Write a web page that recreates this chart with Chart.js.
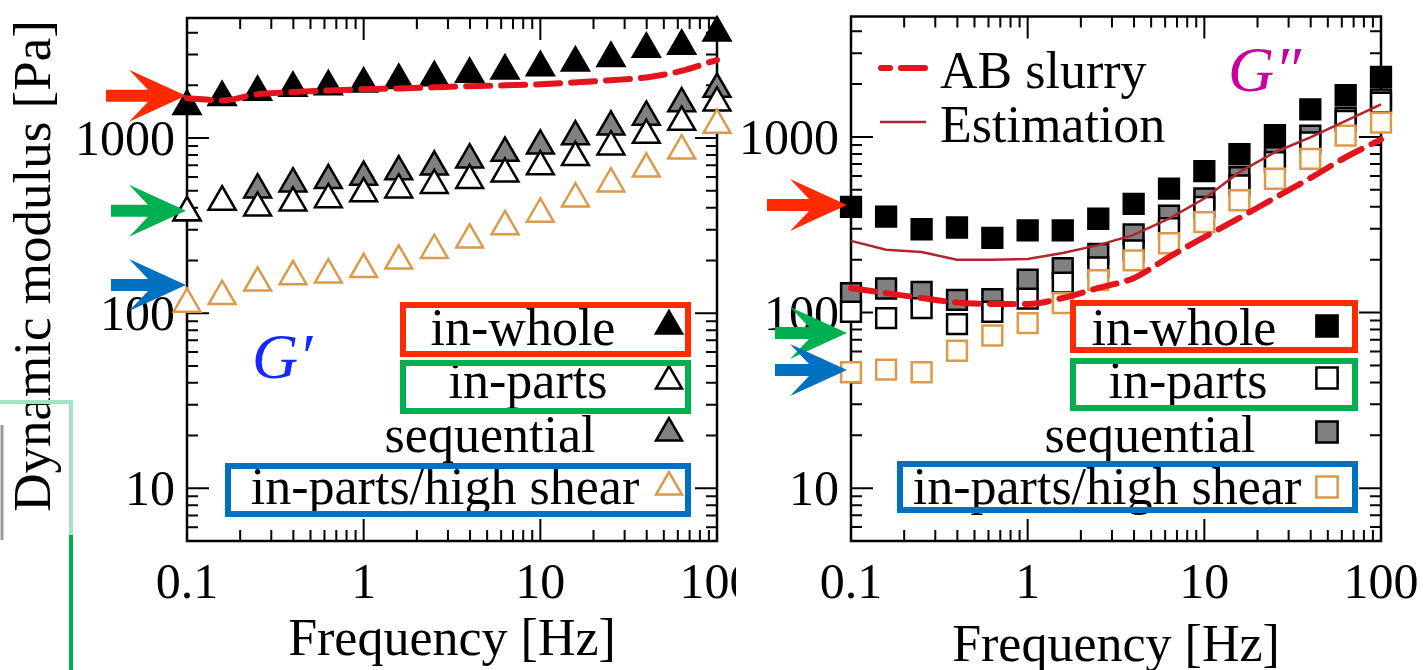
<!DOCTYPE html>
<html>
<head>
    <meta charset="UTF-8">
    <title>Dynamic modulus</title>
    <script src="https://cdn.jsdelivr.net/npm/chart.js"></script>
    <style>
        body { margin: 0; background: #fff; width: 1423px; height: 670px; overflow: hidden; position: relative; }
        #left { position: absolute; left: 0; top: 0; }
        #right { position: absolute; left: 736px; top: 0; background: #fff; }
    </style>
</head>
<body>
    <canvas id="left" width="736" height="670"></canvas>
    <canvas id="right" width="687" height="670"></canvas>

    <script>
        // frequencies [Hz], 5 points per decade
        const freq = [0.1, 0.158, 0.251, 0.398, 0.631, 1, 1.58, 2.51, 3.98, 6.31, 10, 15.8, 25.1, 39.8, 63.1, 100];
        const xTicks = [0.1, 1, 10, 100];
        const yTicks = [10, 100, 1000];

        // G' [Pa]
        const g1Whole = [1520, 1710, 1830, 1930, 1970, 2040, 2140, 2220, 2320, 2420, 2530, 2690, 2860, 3230, 3360, 4000];
        const g1Parts = [376, 432, 400, 427, 446, 482, 507, 538, 574, 625, 688, 777, 893, 1040, 1235, 1590];
        const g1Seq = [376, 432, 507, 549, 574, 599, 644, 685, 753, 821, 904, 1020, 1160, 1320, 1575, 1905];
        const g1Shear = [113, 125, 149, 162, 166, 178, 199, 229, 263, 313, 369, 451, 549, 668, 847, 1188];
        const g1Slurry = [1690, 1640, 1780, 1830, 1870, 1900, 1920, 1950, 1980, 2000, 2030, 2080, 2140, 2220, 2420, 2800];

        // G'' [Pa]
        const g2Whole = [400, 352, 298, 305, 266, 294, 294, 342, 416, 507, 639, 797, 1025, 1435, 1732, 2200];
        const g2Parts = [101, 93, 106, 86, 101, 120, 148, 181, 226, 302, 400, 530, 718, 931, 1234, 1566];
        const g2Seq = [129, 137, 131, 118, 119, 154, 179, 216, 279, 356, 446, 590, 766, 1016, 1288, 1636];
        const g2Shear = [45.7, 47.3, 45.7, 60.6, 74, 87, 113, 153, 198, 248, 327, 436, 578, 749, 1016, 1207];
        const g2Slurry = [138, 129, 121, 114, 112, 112, 121, 138, 157, 207, 269, 346, 450, 583, 766, 968];
        const g2Estim = [256, 228, 221, 200, 200, 202, 218, 242, 277, 343, 446, 630, 818, 994, 1234, 1530];

        // values the arrows point at (0.1 Hz)
        const g1Arrows = [1744, 384, 145];
        const g2Arrows = [410, 76.5, 47];

        const seriesNames = ['in-whole', 'in-parts', 'sequential', 'in-parts/high shear'];

        const RED = '#FF2A00', GREEN = '#00B050', BLUE = '#0070C0';
        const ORANGE = '#D99A4C', SLURRY = '#E3141C', ESTIM = '#B0262C';
        const SERIF = '"Liberation Serif", "Times New Roman", serif';

        const pts = ys => freq.map((f, i) => ({ x: f, y: ys[i] }));

        function marker(ctx, style, x, y, r, fill, stroke, bw) {
            ctx.beginPath();
            if (style === 'triangle') {
                ctx.moveTo(x, y - r);
                ctx.lineTo(x + r * Math.sin(2 * Math.PI / 3), y - r * Math.cos(2 * Math.PI / 3));
                ctx.lineTo(x + r * Math.sin(4 * Math.PI / 3), y - r * Math.cos(4 * Math.PI / 3));
                ctx.closePath();
            } else {
                const s = Math.SQRT1_2 * r;
                ctx.rect(x - s, y - s, 2 * s, 2 * s);
            }
            ctx.fillStyle = fill; ctx.fill();
            ctx.lineWidth = bw; ctx.strokeStyle = stroke; ctx.stroke();
        }

        function arrow(ctx, tipX, y, len, color) {
            ctx.beginPath();
            ctx.moveTo(tipX - len, y - 6);
            ctx.lineTo(tipX - 38, y - 6);
            ctx.lineTo(tipX - 57, y - 26);
            ctx.lineTo(tipX, y);
            ctx.lineTo(tipX - 57, y + 26);
            ctx.lineTo(tipX - 38, y + 6);
            ctx.lineTo(tipX - len, y + 6);
            ctx.closePath();
            ctx.fillStyle = color;
            ctx.fill();
        }

        function text(ctx, s, x, y, font, align, color) {
            ctx.font = font;
            ctx.textAlign = align;
            ctx.textBaseline = 'alphabetic';
            ctx.fillStyle = color || '#000';
            ctx.fillText(s, x, y);
        }

        // frame with inward log ticks on all sides, plus tick labels
        const frame = {
            id: 'frame',
            beforeDatasetsDraw(chart) {
                const { ctx, chartArea: a, scales: { x, y } } = chart;
                ctx.save();
                ctx.strokeStyle = '#000';
                ctx.lineWidth = 2;
                ctx.beginPath();
                for (let d = -1; d <= 2; d++) {
                    for (let m = 1; m <= 9; m++) {
                        const v = m * Math.pow(10, d);
                        if (v < 0.1 || v > 100) continue;
                        const px = x.getPixelForValue(v);
                        const len = m === 1 ? 22 : 11;
                        ctx.moveTo(px, a.top); ctx.lineTo(px, a.top + len);
                        ctx.moveTo(px, a.bottom); ctx.lineTo(px, a.bottom - len);
                    }
                }
                for (let d = 0; d <= 3; d++) {
                    for (let m = 1; m <= 9; m++) {
                        const v = m * Math.pow(10, d);
                        if (v < y.min || v > y.max) continue;
                        const py = y.getPixelForValue(v);
                        const len = m === 1 ? 22 : 11;
                        ctx.moveTo(a.left, py); ctx.lineTo(a.left + len, py);
                        ctx.moveTo(a.right, py); ctx.lineTo(a.right - len, py);
                    }
                }
                ctx.stroke();
                ctx.lineWidth = 2.5;
                ctx.strokeRect(a.left, a.top, a.right - a.left, a.bottom - a.top);

                xTicks.forEach(v => text(ctx, String(v), x.getPixelForValue(v), 598, '50px ' + SERIF, 'center'));
                yTicks.forEach(v => text(ctx, String(v), a.left - 12, y.getPixelForValue(v) + 17, '50px ' + SERIF, 'right'));
                ctx.restore();
            }
        };

        // legend, boxes, arrows and labels
        const deco = {
            id: 'deco',
            afterDatasetsDraw(chart, args, o) {
                const { ctx, chartArea: a, scales: { y } } = chart;
                const ox = o.offset;
                ctx.save();

                text(ctx, 'Frequency [Hz]', (a.left + a.right) / 2, o.titleBase, '52px ' + SERIF, 'center');

                o.entries.forEach((e, i) => {
                    text(ctx, seriesNames[i], e.cx - ox, e.base, '52px ' + SERIF, 'center');
                    marker(ctx, o.style, o.markX - ox, e.my, 15, e.fill, e.stroke, 2.5);
                });

                ctx.lineWidth = 6;
                o.boxes.forEach(b => {
                    ctx.strokeStyle = b.c;
                    ctx.strokeRect(b.x0 - ox + 3, b.y0 + 3, b.x1 - b.x0 - 6, b.y1 - b.y0 - 6);
                });

                const tip = a.left - o.tipGap;
                o.arrows.forEach((v, i) => arrow(ctx, tip, y.getPixelForValue(v), o.arrowLen[i], [RED, GREEN, BLUE][i]));

                text(ctx, o.glabel.s, o.glabel.x - ox, o.glabel.y, 'italic 64px ' + SERIF, 'left', o.glabel.c);

                if (o.extra) o.extra(ctx, ox);
                ctx.restore();
            }
        };

        function options(padding, decoOpts) {
            return {
                responsive: false,
                animation: false,
                layout: { padding: padding },
                plugins: { legend: { display: false }, tooltip: { enabled: false }, deco: decoOpts },
                scales: {
                    x: { type: 'logarithmic', min: 0.1, max: 100, display: false },
                    y: { type: 'logarithmic', min: 5, max: 4850, display: false }
                }
            };
        }

        function markSet(label, ys, style, fill, stroke, order) {
            return {
                label: label, data: pts(ys), showLine: false, clip: false, order: order,
                pointStyle: style, pointRadius: style === 'triangle' ? 15.5 : 14,
                pointBackgroundColor: fill, pointBorderColor: stroke, pointBorderWidth: 2.5
            };
        }

        new Chart(document.getElementById('left'), {
            type: 'scatter',
            plugins: [frame, deco],
            data: {
                datasets: [
                    { label: 'AB slurry', data: pts(g1Slurry), showLine: true, clip: false, order: 0,
                      borderColor: SLURRY, borderWidth: 6, borderDash: [24, 11], borderCapStyle: 'round',
                      cubicInterpolationMode: 'monotone', pointRadius: 0 },
                    markSet(seriesNames[3], g1Shear, 'triangle', '#fff', ORANGE, 1),
                    markSet(seriesNames[1], g1Parts, 'triangle', '#fff', '#000', 2),
                    markSet(seriesNames[2], g1Seq, 'triangle', '#808080', '#000', 3),
                    markSet(seriesNames[0], g1Whole, 'triangle', '#000', '#000', 4)
                ]
            },
            options: options({ left: 187, right: 19, top: 13, bottom: 129 }, {
                offset: 0,
                titleBase: 655,
                style: 'triangle',
                markX: 669,
                entries: [
                    { cx: 523, base: 345, my: 326, fill: '#000', stroke: '#000' },
                    { cx: 528, base: 398, my: 381, fill: '#fff', stroke: '#000' },
                    { cx: 490, base: 452, my: 433, fill: '#808080', stroke: '#000' },
                    { cx: 445, base: 504, my: 487, fill: '#fff', stroke: ORANGE }
                ],
                boxes: [
                    { x0: 400, y0: 302, x1: 691, y1: 357, c: RED },
                    { x0: 400, y0: 360, x1: 691, y1: 414, c: GREEN },
                    { x0: 225, y0: 463, x1: 691, y1: 517, c: BLUE }
                ],
                arrows: g1Arrows,
                arrowLen: [80, 75, 75],
                tipGap: 1,
                glabel: { s: 'G\u2032', x: 252, y: 378, c: '#1428FF' },
                extra(ctx) {
                    ctx.save();
                    ctx.translate(50, 266);
                    ctx.rotate(-Math.PI / 2);
                    text(ctx, 'Dynamic modulus [Pa]', 0, 0, '53px ' + SERIF, 'center');
                    ctx.restore();
                    ctx.lineWidth = 4;
                    ctx.strokeStyle = '#A3E2C2';
                    ctx.beginPath();
                    ctx.moveTo(0, 402); ctx.lineTo(71, 402); ctx.lineTo(71, 535);
                    ctx.stroke();
                    ctx.strokeStyle = GREEN;
                    ctx.beginPath();
                    ctx.moveTo(71, 535); ctx.lineTo(71, 670);
                    ctx.stroke();
                    ctx.strokeStyle = '#9a9a9a';
                    ctx.lineWidth = 3;
                    ctx.beginPath();
                    ctx.moveTo(2, 425); ctx.lineTo(2, 540);
                    ctx.stroke();
                }
            })
        });

        new Chart(document.getElementById('right'), {
            type: 'scatter',
            plugins: [frame, deco],
            data: {
                datasets: [
                    { label: 'AB slurry', data: pts(g2Slurry), showLine: true, clip: false, order: 0,
                      borderColor: SLURRY, borderWidth: 6, borderDash: [24, 11], borderCapStyle: 'round',
                      cubicInterpolationMode: 'monotone', pointRadius: 0 },
                    { label: 'Estimation', data: pts(g2Estim), showLine: true, clip: false, order: 1,
                      borderColor: ESTIM, borderWidth: 2.5, pointRadius: 0 },
                    markSet(seriesNames[3], g2Shear, 'rect', '#FFFDF6', ORANGE, 2),
                    markSet(seriesNames[1], g2Parts, 'rect', '#fff', '#000', 3),
                    markSet(seriesNames[2], g2Seq, 'rect', '#808080', '#000', 4),
                    markSet(seriesNames[0], g2Whole, 'rect', '#000', '#000', 5)
                ]
            },
            options: options({ left: 115, right: 42, top: 13, bottom: 129 }, {
                offset: 736,
                titleBase: 661,
                style: 'rect',
                markX: 1327,
                entries: [
                    { cx: 1184, base: 345, my: 326, fill: '#000', stroke: '#000' },
                    { cx: 1188, base: 398, my: 378, fill: '#fff', stroke: '#000' },
                    { cx: 1150, base: 452, my: 432, fill: '#808080', stroke: '#000' },
                    { cx: 1107, base: 504, my: 487, fill: '#fff', stroke: ORANGE }
                ],
                boxes: [
                    { x0: 1070, y0: 300, x1: 1358, y1: 353, c: RED },
                    { x0: 1070, y0: 358, x1: 1358, y1: 411, c: GREEN },
                    { x0: 897, y0: 461, x1: 1358, y1: 513, c: BLUE }
                ],
                arrows: g2Arrows,
                arrowLen: [80, 72, 72],
                tipGap: 4,
                glabel: { s: 'G\u2033', x: 1228, y: 91, c: '#C8009E' },
                extra(ctx, ox) {
                    ctx.lineCap = 'round';
                    ctx.strokeStyle = SLURRY;
                    ctx.lineWidth = 6;
                    ctx.setLineDash([24, 11]);
                    ctx.lineDashOffset = 15;
                    ctx.beginPath();
                    ctx.moveTo(881 - ox, 68); ctx.lineTo(927 - ox, 68);
                    ctx.stroke();
                    ctx.setLineDash([]);
                    ctx.lineCap = 'butt';
                    ctx.strokeStyle = ESTIM;
                    ctx.lineWidth = 2.5;
                    ctx.beginPath();
                    ctx.moveTo(880 - ox, 122); ctx.lineTo(926 - ox, 122);
                    ctx.stroke();
                    text(ctx, 'AB slurry', 940 - ox, 88, '52px ' + SERIF, 'left');
                    text(ctx, 'Estimation', 940 - ox, 142, '52px ' + SERIF, 'left');
                }
            })
        });
    </script>
</body>
</html>
